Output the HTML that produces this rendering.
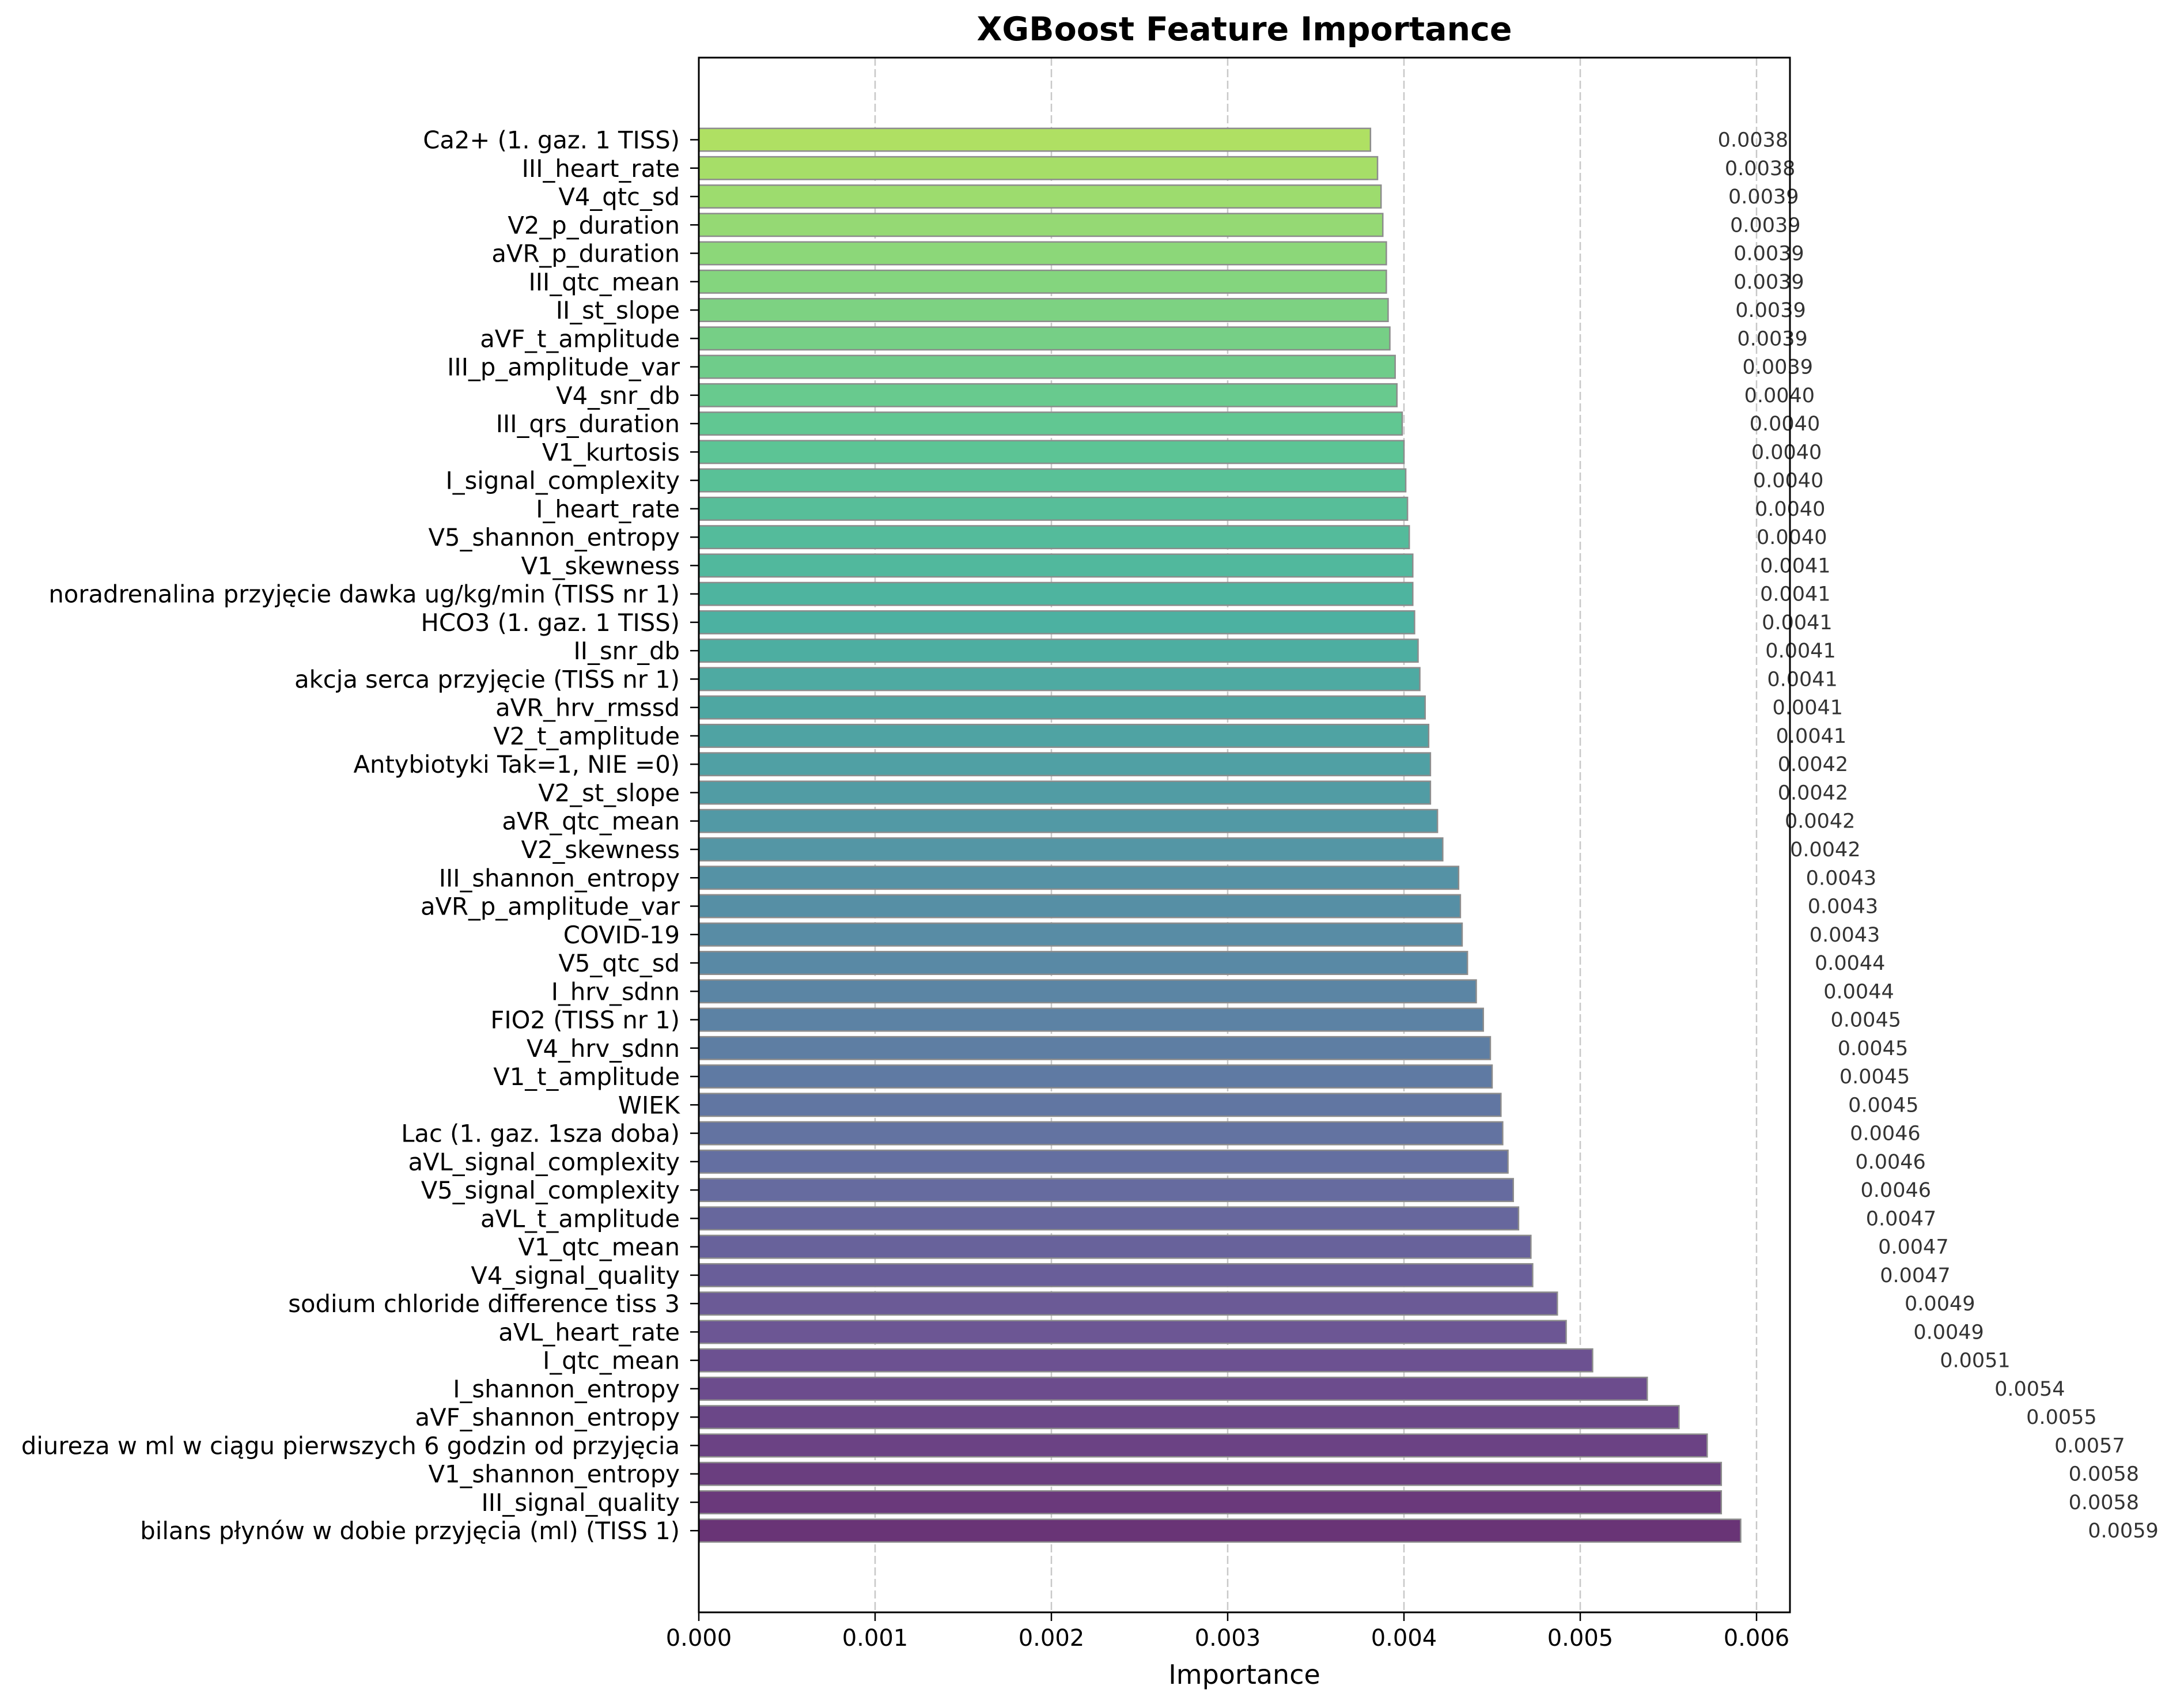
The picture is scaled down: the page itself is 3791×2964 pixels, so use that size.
<!DOCTYPE html>
<html><head><meta charset="utf-8"><style>
html,body{margin:0;padding:0;background:#fff}
svg{display:block}
text{font-family:"DejaVu Sans","Liberation Sans",sans-serif}
</style></head><body>
<svg id="chart" width="3791" height="2964" viewBox="0 0 3791 2964" xmlns="http://www.w3.org/2000/svg">
<rect width="3791" height="2964" fill="#fff"/>
<text x="2160" y="70" text-anchor="middle" font-size="57" font-weight="bold">XGBoost Feature Importance</text>
<g id="grid"></g>
<g id="bars"></g>
<g id="vals"></g>
<g id="yaxis"></g>
<g id="xaxis"></g>
<rect x="1213" y="100" width="1894" height="2698" fill="none" stroke="#000" stroke-width="3"/>
<text x="2160" y="2922" text-anchor="middle" font-size="46">Importance</text>
</svg>
<script>
const features = ["Ca2+ (1. gaz. 1 TISS)","III_heart_rate","V4_qtc_sd","V2_p_duration","aVR_p_duration","III_qtc_mean","II_st_slope","aVF_t_amplitude","III_p_amplitude_var","V4_snr_db","III_qrs_duration","V1_kurtosis","I_signal_complexity","I_heart_rate","V5_shannon_entropy","V1_skewness","noradrenalina przyjęcie dawka ug/kg/min (TISS nr 1)","HCO3 (1. gaz. 1 TISS)","II_snr_db","akcja serca przyjęcie (TISS nr 1)","aVR_hrv_rmssd","V2_t_amplitude","Antybiotyki Tak=1, NIE =0)","V2_st_slope","aVR_qtc_mean","V2_skewness","III_shannon_entropy","aVR_p_amplitude_var","COVID-19","V5_qtc_sd","I_hrv_sdnn","FIO2 (TISS nr 1)","V4_hrv_sdnn","V1_t_amplitude","WIEK","Lac (1. gaz. 1sza doba)","aVL_signal_complexity","V5_signal_complexity","aVL_t_amplitude","V1_qtc_mean","V4_signal_quality","sodium chloride difference tiss 3","aVL_heart_rate","I_qtc_mean","I_shannon_entropy","aVF_shannon_entropy","diureza w ml w ciągu pierwszych 6 godzin od przyjęcia ","V1_shannon_entropy","III_signal_quality","bilans płynów w dobie przyjęcia (ml) (TISS 1)"];
const importance = [0.00381,0.00385,0.00387,0.00388,0.00390,0.00390,0.00391,0.00392,0.00395,0.00396,0.00399,0.00400,0.00401,0.00402,0.00403,0.00405,0.00405,0.00406,0.00408,0.00409,0.00412,0.00414,0.00415,0.00415,0.00419,0.00422,0.00431,0.00432,0.00433,0.00436,0.00441,0.00445,0.00449,0.00450,0.00455,0.00456,0.00459,0.00462,0.00465,0.00472,0.00473,0.00487,0.00492,0.00507,0.00538,0.00556,0.00572,0.00580,0.00580,0.00591];
const valueLabels = ["0.0038","0.0038","0.0039","0.0039","0.0039","0.0039","0.0039","0.0039","0.0039","0.0040","0.0040","0.0040","0.0040","0.0040","0.0040","0.0041","0.0041","0.0041","0.0041","0.0041","0.0041","0.0041","0.0042","0.0042","0.0042","0.0042","0.0043","0.0043","0.0043","0.0044","0.0044","0.0045","0.0045","0.0045","0.0045","0.0046","0.0046","0.0046","0.0047","0.0047","0.0047","0.0049","0.0049","0.0051","0.0054","0.0055","0.0057","0.0058","0.0058","0.0059"];
const xTicks = [0,0.001,0.002,0.003,0.004,0.005,0.006];
const xTickLabels = ["0.000","0.001","0.002","0.003","0.004","0.005","0.006"];

const NS="http://www.w3.org/2000/svg";
const X0=1213, PX=306e3, Y0=242.5, STEP=49.26, BH=39.4;
const xs=v=>X0+v*PX;
const ys=i=>Y0+i*STEP;
const vir=[[68,1,84],[72,40,120],[62,74,137],[49,104,142],[38,130,142],[31,158,137],[53,183,121],[109,205,89],[180,222,44],[253,231,37]];
function viridis(t){const p=t*(vir.length-1);const i=Math.min(Math.floor(p),vir.length-2);const f=p-i;const c=vir[i].map((a,k)=>a+(vir[i+1][k]-a)*f);return c.map(a=>Math.round(0.8*a+51));}
function mk(tag,attrs,parent){const e=document.createElementNS(NS,tag);for(const k in attrs)e.setAttribute(k,attrs[k]);parent.appendChild(e);return e;}
const grid=document.getElementById('grid'),bars=document.getElementById('bars'),vals=document.getElementById('vals'),ya=document.getElementById('yaxis'),xa=document.getElementById('xaxis');
xTicks.forEach((t,i)=>{
  const x=xs(t);
  const g=mk('line',{x1:x,x2:x,y1:100,y2:2798,stroke:'#b0b0b0','stroke-width':2.5,'stroke-dasharray':'14,6','stroke-opacity':0.7},grid);
  
  
  const tk=mk('line',{x1:x,x2:x,y1:2798,y2:2813,stroke:'#000','stroke-width':2.5},xa);
  
  
  const tl=mk('text',{x:x,y:2856,'text-anchor':'middle','font-size':40},xa);
  tl.textContent=xTickLabels[i];
  
  
});
const n=features.length;
features.forEach((f,i)=>{
  const y=ys(i), v=importance[i];
  const c=viridis(0.85*(n-1-i)/(n-1));
  const r=mk('rect',{x:X0,y:y-BH/2,width:xs(v)-X0,height:BH,fill:`rgb(${c[0]},${c[1]},${c[2]})`,stroke:'#8c8c8c','stroke-width':2.5},bars);
  
  
  const tk=mk('line',{x1:1198,x2:X0,y1:y,y2:y,stroke:'#000','stroke-width':2.5},ya);
  
  
  const tl=mk('text',{x:1180,y:y+15,'text-anchor':'end','font-size':41.7},ya);
  tl.textContent=f;
  
  
  const vl=mk('text',{x:xs(v+0.00197),y:y+12,'font-size':35,fill:'#333'},vals);
  vl.textContent=valueLabels[i];
  
  
});
</script>
</body></html>
